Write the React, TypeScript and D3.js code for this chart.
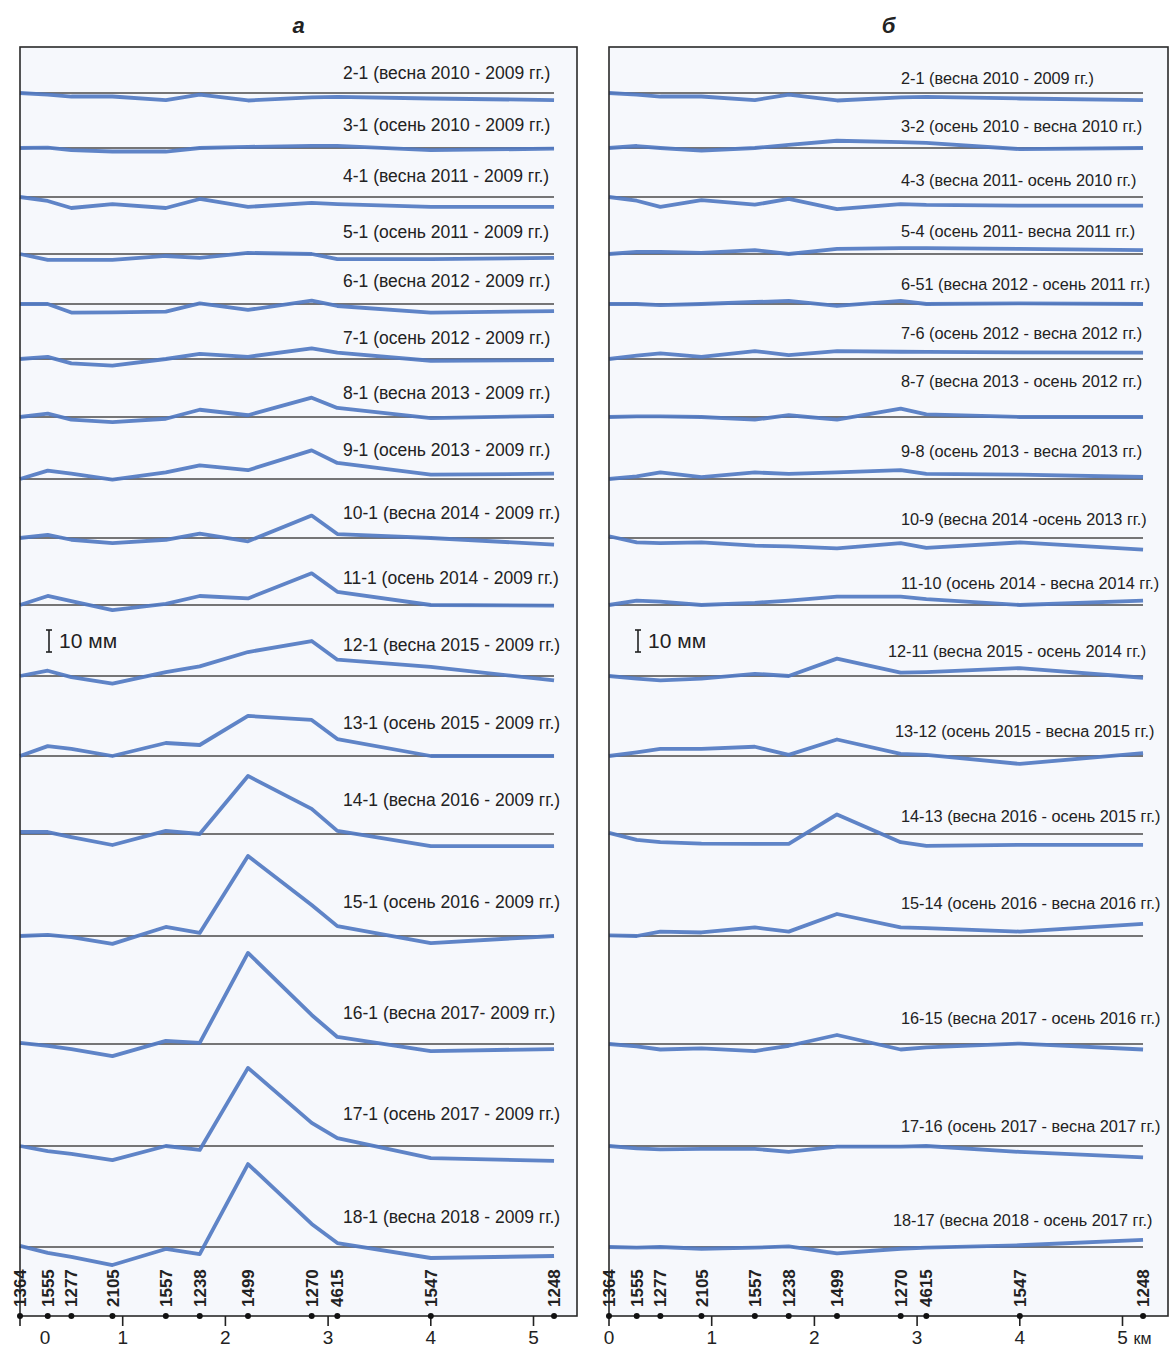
import React from 'react';
import * as d3 from 'd3';

// Levelling stations along the profile and their distance from the start, km
const stations = ['1364', '1555', '1277', '2105', '1557', '1238', '1499', '1270', '4615', '1547', '1248'];
const stationKm = [0, 0.27, 0.5, 0.9, 1.42, 1.75, 2.22, 2.84, 3.09, 4.0, 5.2];
const kmTicks = [0, 1, 2, 3, 4, 5];

// а — vertical displacement relative to the first cycle (2009), mm
const labelsA = [
  '2-1 (весна 2010 - 2009 гг.)',
  '3-1 (осень 2010 - 2009 гг.)',
  '4-1 (весна 2011 - 2009 гг.)',
  '5-1 (осень 2011 - 2009 гг.)',
  '6-1 (весна 2012 - 2009 гг.)',
  '7-1 (осень 2012 - 2009 гг.)',
  '8-1 (весна 2013 - 2009 гг.)',
  '9-1 (осень 2013 - 2009 гг.)',
  '10-1 (весна 2014 - 2009 гг.)',
  '11-1 (осень 2014 - 2009 гг.)',
  '12-1 (весна 2015 - 2009 гг.)',
  '13-1 (осень 2015 - 2009 гг.)',
  '14-1 (весна 2016 - 2009 гг.)',
  '15-1 (осень 2016 - 2009 гг.)',
  '16-1 (весна 2017- 2009 гг.)',
  '17-1 (осень 2017 - 2009 гг.)',
  '18-1 (весна 2018 - 2009 гг.)',
];
const valuesA = [
  [0, -0.7, -1.6, -1.6, -3.2, -0.7, -3.4, -2, -1.8, -2.5, -3.2],
  [0, 0.2, -1, -1.6, -1.6, 0, 0.5, 1, 1, -1, -0.3],
  [0, -1.8, -5, -3.2, -5, -0.9, -4.5, -2.7, -3.2, -4.5, -4.5],
  [0, -2.7, -2.7, -2.7, -0.9, -1.8, 0.5, 0, -2.3, -2.3, -1.8],
  [0, 0, -3.9, -3.8, -3.5, 0.3, -2.7, 1.5, -0.9, -3.9, -3.2],
  [0, 1, -2, -3, 0, 2.3, 1, 4.8, 2.9, -0.8, -0.5],
  [0, 1.5, -1.2, -2.3, -0.8, 3.3, 0.8, 8.8, 4.1, -0.5, 0.5],
  [0, 3.8, 2.4, -0.3, 3, 6.2, 4, 13, 7.3, 2, 2.4],
  [0, 1.4, -0.8, -2.3, -0.8, 2, -1.5, 10.2, 1.8, 0, -3],
  [0, 4.1, 1.8, -2.3, 0.5, 4.1, 3, 14.4, 6, 0, -0.3],
  [0, 2.4, -0.5, -3.5, 1.8, 4.4, 10.9, 15.9, 7.4, 4.1, -2],
  [0, 4.5, 3.2, 0, 5.9, 5, 18.2, 16.4, 7.7, 0, 0],
  [0.9, 0.9, -1.4, -5, 1.4, 0, 26.4, 11.4, 1.4, -5.5, -5.5],
  [0, 0.5, -0.5, -3.6, 4.1, 1.4, 36.4, 14.1, 4.5, -3.2, 0],
  [0.5, -0.9, -2.3, -5.5, 1.4, 0.5, 41.4, 13.2, 3.2, -3.2, -2.3],
  [0, -2.3, -3.6, -6.4, 0, -1.8, 35.5, 10.5, 3.6, -5.5, -6.8],
  [0.5, -2.7, -4.5, -8.2, -0.9, -3.2, 37.7, 10.5, 1.8, -5, -4.1],
];

// б — vertical displacement between consecutive cycles, mm
const labelsB = [
  '2-1 (весна 2010 - 2009 гг.)',
  '3-2 (осень 2010 - весна 2010 гг.)',
  '4-3 (весна 2011- осень 2010 гг.)',
  '5-4 (осень 2011- весна 2011 гг.)',
  '6-51 (весна 2012 - осень 2011 гг.)',
  '7-6 (осень 2012 - весна 2012 гг.)',
  '8-7 (весна 2013 - осень 2012 гг.)',
  '9-8 (осень 2013 - весна 2013 гг.)',
  '10-9 (весна 2014 -осень 2013 гг.)',
  '11-10 (осень 2014 - весна 2014 гг.)',
  '12-11 (весна 2015 - осень 2014 гг.)',
  '13-12 (осень 2015 - весна 2015 гг.)',
  '14-13 (весна 2016 - осень 2015 гг.)',
  '15-14 (осень 2016 - весна 2016 гг.)',
  '16-15 (весна 2017 - осень 2016 гг.)',
  '17-16 (осень 2017 - весна 2017 гг.)',
  '18-17 (весна 2018 - осень 2017 гг.)',
];
const valuesB = [
  [0, -0.7, -1.6, -1.6, -3.2, -0.7, -3.4, -2, -1.8, -2.5, -3.2],
  [0, 0.9, 0, -1.2, 0, 1.4, 3.3, 2.7, 2.3, -0.5, 0],
  [0, -1.7, -4.5, -1.4, -3.5, -0.9, -5.5, -3.2, -3.6, -3.9, -3.9],
  [0, 0.9, 0.9, 0.5, 1.8, 0, 2.3, 2.7, 2.7, 2.3, 1.8],
  [0, 0, -0.5, 0, 0.9, 1.4, -0.9, 1.4, 0, 0.3, 0],
  [0, 1.5, 2.6, 1, 3.6, 1.8, 3.6, 3.3, 3.2, 3, 2.9],
  [0, 0.3, 0.3, 0, -1.2, 0.8, -1.2, 3.8, 1.2, 0, 0],
  [0, 1.2, 3, 0.9, 3, 2.3, 3, 4, 2.3, 2, 0.9],
  [0.8, -2, -2.3, -2, -3.5, -3.8, -4.7, -2.3, -4.5, -2, -5.3],
  [0, 2, 1.5, 0, 1, 2, 3.8, 3.8, 2.7, 0, 2],
  [0, -1.2, -2, -1.2, 1, 0, 7.9, 1.5, 1.8, 3.6, -0.8],
  [0, 1.6, 3.2, 3.2, 4.2, 0.5, 7.5, 1, 0.5, -3.6, 1.3],
  [0.5, -2.7, -3.7, -4.4, -4.5, -4.5, 8.9, -3.7, -5.4, -4.9, -4.9],
  [0.3, 0, 2, 1.6, 3.9, 2, 10, 3.9, 3.6, 2, 5.5],
  [0, -1.1, -2.5, -2, -3.2, -0.8, 4.1, -2.5, -1.5, 0.2, -2.5],
  [0, -1.1, -1.5, -1.3, -1.3, -2.7, -0.3, -0.3, 0, -2.7, -5.2],
  [0, -0.3, 0, -0.8, -0.3, 0.3, -2.9, -0.8, -0.3, 0.8, 3.2],
];

// Row layout (page pixels)
const baselineY = [93, 148, 197, 254, 304, 359, 417, 479, 538, 605, 676, 756, 834, 936, 1044, 1146, 1247];
const labelYA = [73, 125, 176, 232, 281, 338, 393, 450, 513, 578, 645, 723, 800, 902, 1013, 1114, 1217];
const labelYB = [78, 126, 180, 231, 284, 333, 381, 451, 519, 583, 651, 731, 816, 903, 1018, 1126, 1220];
const labelXA = Array(17).fill(343);
const labelXB = [901, 901, 901, 901, 901, 901, 901, 901, 901, 901, 888, 895, 901, 901, 901, 901, 893];

const FONT = 'Arial, "Liberation Sans", Helvetica, sans-serif';
const TOP = 47;
const AXIS_Y = 1316;
const PX_PER_MM = 2.2;
const PX_PER_KM = 102.7;

type PanelProps = {
  left: number;
  right: number;
  title: string;
  labels: string[];
  values: number[][];
  labelX: number[];
  labelY: number[];
  labelSize: number;
  zeroShift: number;
  unitSuffix: boolean;
};

function Panel({ left, right, title, labels, values, labelX, labelY, labelSize, zeroShift, unitSuffix }: PanelProps) {
  const x = d3.scaleLinear().domain([0, 5]).range([left, left + 5 * PX_PER_KM]);
  const dy = d3.scaleLinear().domain([0, 10]).range([0, -10 * PX_PER_MM]);
  const lineEnd = x(stationKm[stationKm.length - 1]);

  return (
    <g>
      <rect x={left} y={TOP} width={right - left} height={AXIS_Y - TOP} fill="#f6f8fc" />
      <text x={(left + right) / 2} y={33} textAnchor="middle" fontFamily={FONT} fontSize={22}
        fontWeight="bold" fontStyle="italic" fill="#222">{title}</text>

      {values.map((row, r) => {
        const base = baselineY[r];
        const line = d3.line<number>()
          .x((_, i) => x(stationKm[i]))
          .y((d) => base + dy(d));
        return (
          <g key={r}>
            <line x1={left} x2={lineEnd} y1={base} y2={base} stroke="#4a4a4a" strokeWidth={1.6} />
            <path d={line(row) ?? ''} fill="none" stroke="#5179c2" strokeWidth={3.8}
              strokeLinejoin="round" strokeOpacity={0.92} />
            <text x={labelX[r]} y={labelY[r]} dy="0.35em" fontFamily={FONT} fontSize={labelSize}
              fill="#222">{labels[r]}</text>
          </g>
        );
      })}

      {/* 10 mm scale bar */}
      <g transform={`translate(${left + 29},${baselineY[10] - 24})`}>
        <line x1={0} x2={0} y1={0} y2={dy(10)} stroke="#222" strokeWidth={1.6} />
        <line x1={-3} x2={3} y1={0} y2={0} stroke="#222" strokeWidth={1.6} />
        <line x1={-3} x2={3} y1={dy(10)} y2={dy(10)} stroke="#222" strokeWidth={1.6} />
        <text x={10} y={dy(10) / 2} dy="0.35em" fontFamily={FONT} fontSize={21} fill="#222">10 мм</text>
      </g>

      <rect x={left} y={TOP} width={right - left} height={AXIS_Y - TOP} fill="none" stroke="#2a2a2a" strokeWidth={1.6} />

      {/* distance axis */}
      {kmTicks.map((k) => (
        <g key={k}>
          <line x1={x(k)} x2={x(k)} y1={AXIS_Y} y2={AXIS_Y + 10} stroke="#222" strokeWidth={1.6} />
          <text x={x(k) + (k === 0 ? zeroShift : 0)} y={1337} dy="0.35em" textAnchor="middle"
            fontFamily={FONT} fontSize={19} fill="#222">{k}</text>
          {unitSuffix && k === 5 ? (
            <text x={x(k) + 11} y={1338} dy="0.35em" fontFamily={FONT} fontSize={16} fill="#222">км</text>
          ) : null}
        </g>
      ))}
      {stations.map((s, i) => (
        <g key={s + i}>
          <circle cx={x(stationKm[i])} cy={AXIS_Y} r={3} fill="#111" />
          <text transform={`translate(${x(stationKm[i])},${AXIS_Y - 9}) rotate(-90)`} dy="0.36em"
            fontFamily={FONT} fontSize={17} fontWeight="bold" fill="#222">{s}</text>
        </g>
      ))}
    </g>
  );
}

export default function App() {
  return (
    <svg width={1170} height={1349} style={{ position: 'absolute', left: 0, top: 0, background: '#fff' }}>
      <Panel left={20} right={577} title="а" labels={labelsA} values={valuesA} labelX={labelXA}
        labelY={labelYA} labelSize={17.5} zeroShift={25} unitSuffix={false} />
      <Panel left={609} right={1168} title="б" labels={labelsB} values={valuesB} labelX={labelXB}
        labelY={labelYB} labelSize={16.3} zeroShift={0} unitSuffix={true} />
    </svg>
  );
}
